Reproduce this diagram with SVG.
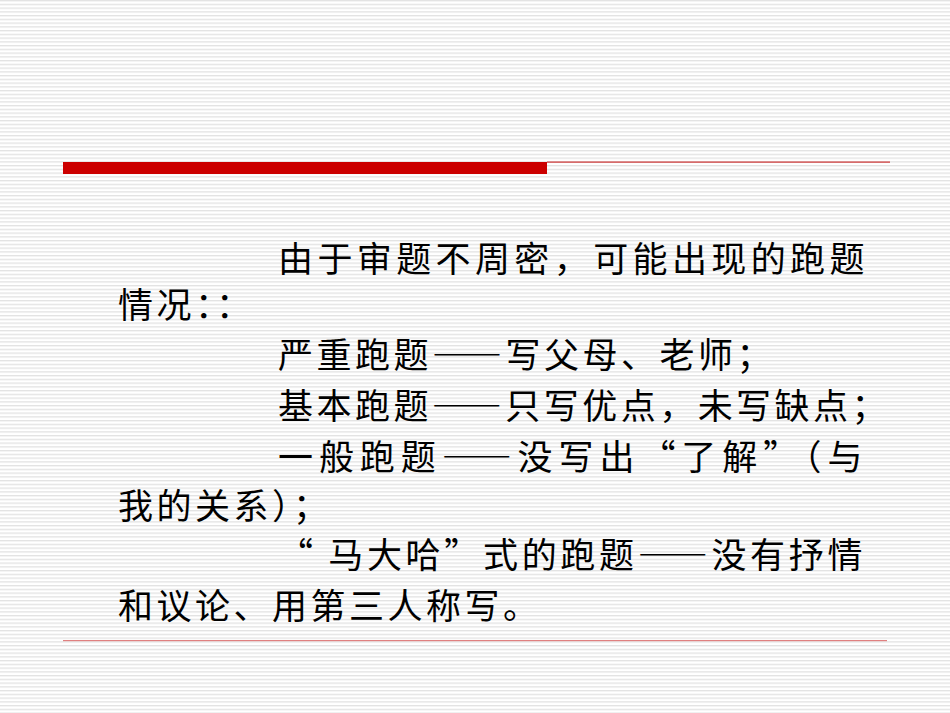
<svg xmlns="http://www.w3.org/2000/svg" width="950" height="713" viewBox="0 0 950 713">
<defs>
<pattern id="st" width="10" height="3.75" patternUnits="userSpaceOnUse"><rect width="10" height="3.75" fill="#fff"/><rect y="0" width="10" height="1.3" fill="#e2e2e2"/></pattern>
<style>.t{font-family:"Noto Sans CJK SC",sans-serif;font-size:35px;letter-spacing:3.5px;fill:#000}</style>
</defs>
<rect width="950" height="713" fill="url(#st)"/>
<rect x="63" y="162" width="484" height="12" fill="#cc0000"/>
<rect x="547" y="161.5" width="343" height="1.2" fill="#cc3333"/>
<rect x="63" y="640" width="824" height="1.2" fill="#e08080"/>
<g id="text" xml:lang="zh-CN">
<text class="t" x="278" y="272" textLength="590">由于审题不周密，可能出现的跑题</text>
<text class="t" x="118" y="318">情况：：</text>
<text class="t" x="278" y="368">严重跑题——写父母、老师；</text>
<text class="t" x="278" y="419" textLength="612">基本跑题——只写优点，未写缺点；</text>
<text class="t" x="278" y="470" textLength="588">一般跑题——没写出“了解”（与</text>
<text class="t" x="118" y="519">我的关系）；</text>
<text class="t" x="278" y="568" textLength="588">“ 马大哈”式的跑题——没有抒情</text>
<text class="t" x="118" y="619">和议论、用第三人称写。</text>
</g>
</svg>
